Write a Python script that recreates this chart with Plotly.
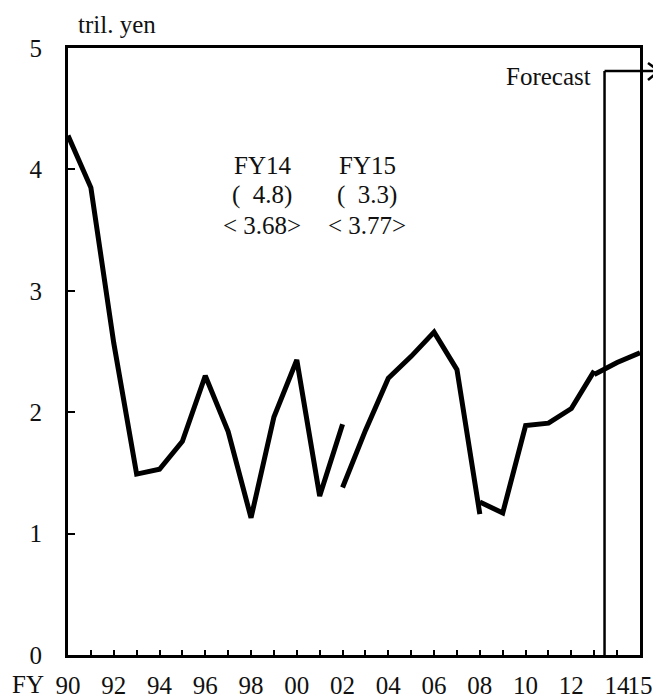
import plotly.graph_objects as go

# ---- data ----
fiscal_years = ["90", "91", "92", "93", "94", "95", "96", "97", "98", "99",
                "00", "01", "02", "03", "04", "05", "06", "07", "08", "09",
                "10", "11", "12", "13", "14", "15"]
labelled_years = ["90", "92", "94", "96", "98", "00", "02", "04", "06", "08",
                  "10", "12", "14", "15"]

# FY90-FY02 (old basis)
seg1_years = ["90", "91", "92", "93", "94", "95", "96", "97", "98", "99", "00", "01", "02"]
seg1_vals = [4.28, 3.85, 2.57, 1.49, 1.53, 1.76, 2.30, 1.84, 1.13, 1.96, 2.43, 1.31, 1.90]
# FY02-FY08
seg2_years = ["02", "03", "04", "05", "06", "07", "08"]
seg2_vals = [1.38, 1.85, 2.28, 2.46, 2.66, 2.35, 1.16]
# FY08-FY13
seg3_years = ["08", "09", "10", "11", "12", "13"]
seg3_vals = [1.26, 1.17, 1.89, 1.91, 2.03, 2.34]
# FY13-FY15 forecast
seg4_years = ["13", "14", "15"]
seg4_vals = [2.31, 2.41, 2.49]

y_ticks = [0, 1, 2, 3, 4, 5]
forecast_boundary = 23.45  # between FY13 and FY14 (axis position)

FONT = "Liberation Serif, Times New Roman, serif"
FS = 25

# page body has an 8px margin; plot area in page pixels: x 68..640, y 48..655
OFF = 8
PL, PR, PT, PB = 68, 640, 48, 655

def pos(yrs):
    return [fiscal_years.index(y) for y in yrs]

fig = go.Figure()
for yrs, vals in [(seg1_years, seg1_vals), (seg2_years, seg2_vals),
                  (seg3_years, seg3_vals), (seg4_years, seg4_vals)]:
    fig.add_trace(go.Scatter(x=pos(yrs), y=vals, mode="lines",
                             line=dict(color="black", width=5),
                             showlegend=False, hoverinfo="skip"))

tickvals = list(range(len(fiscal_years)))
ticktext = [y if y in labelled_years else "" for y in fiscal_years]

W, H = 661 - OFF, 698 - OFF
fig.update_layout(
    width=W, height=H,
    margin=dict(l=PL - OFF, r=W + OFF - PR, t=PT - OFF, b=H + OFF - PB, autoexpand=False),
    paper_bgcolor="white", plot_bgcolor="white",
    font=dict(family=FONT, size=FS, color="#111"),
    xaxis=dict(range=[0, len(fiscal_years) - 1], tickvals=tickvals, ticktext=ticktext,
               ticks="inside", ticklen=5, tickwidth=2, tickcolor="black",
               showline=True, linecolor="black", linewidth=3, mirror=True,
               showgrid=False, zeroline=False, tickangle=0, automargin=False,
               ticklabelstandoff=6,
               tickfont=dict(family=FONT, size=FS, color="#111")),
    yaxis=dict(range=[0, 5], tickvals=y_ticks, automargin=False,
               ticks="inside", ticklen=7, tickwidth=2, tickcolor="black",
               showline=True, linecolor="black", linewidth=3, mirror=True,
               showgrid=False, zeroline=False,
               ticklabelstandoff=18,
               tickfont=dict(family=FONT, size=FS, color="#111")),
)

def px_to_paper_x(px):
    return (px - PL) / float(PR - PL)

def px_to_paper_y(py):
    return (PB - py) / float(PB - PT)

ann = []
ann.append(dict(text="tril. yen", x=px_to_paper_x(76), y=px_to_paper_y(25), xref="paper", yref="paper",
                xanchor="left", yanchor="middle", showarrow=False))
ann.append(dict(text="FY", x=px_to_paper_x(11), y=px_to_paper_y(684), xref="paper", yref="paper",
                xanchor="left", yanchor="middle", showarrow=False, borderpad=0))
ann.append(dict(text="Forecast", x=px_to_paper_x(593), y=px_to_paper_y(76), xref="paper", yref="paper",
                xanchor="right", yanchor="middle", showarrow=False))
block = [(262, ["FY14", "(  4.8)", "&lt; 3.68&gt;"]),
         (367, ["FY15", "(  3.3)", "&lt; 3.77&gt;"])]
for cx, lines in block:
    for i, t in enumerate(lines):
        ann.append(dict(text=t, x=px_to_paper_x(cx), y=px_to_paper_y(165 + 30 * i),
                        xref="paper", yref="paper", xanchor="center", yanchor="middle",
                        showarrow=False))
fig.update_layout(annotations=ann)

top_y = px_to_paper_y(71)
fx = forecast_boundary / (len(fiscal_years) - 1)
tip_x = px_to_paper_x(659)
back_x = px_to_paper_x(648)
shapes = [
    dict(type="line", xref="paper", yref="paper", x0=fx, x1=fx, y0=0, y1=top_y,
         line=dict(color="black", width=2.5)),
    dict(type="line", xref="paper", yref="paper", x0=fx, x1=tip_x, y0=top_y, y1=top_y,
         line=dict(color="black", width=2.5)),
    dict(type="line", xref="paper", yref="paper", x0=back_x, x1=tip_x,
         y0=px_to_paper_y(63), y1=top_y, line=dict(color="black", width=2.5)),
    dict(type="line", xref="paper", yref="paper", x0=back_x, x1=tip_x,
         y0=px_to_paper_y(80), y1=top_y, line=dict(color="black", width=2.5)),
]
fig.update_layout(shapes=shapes)

fig.write_html("out.html")
